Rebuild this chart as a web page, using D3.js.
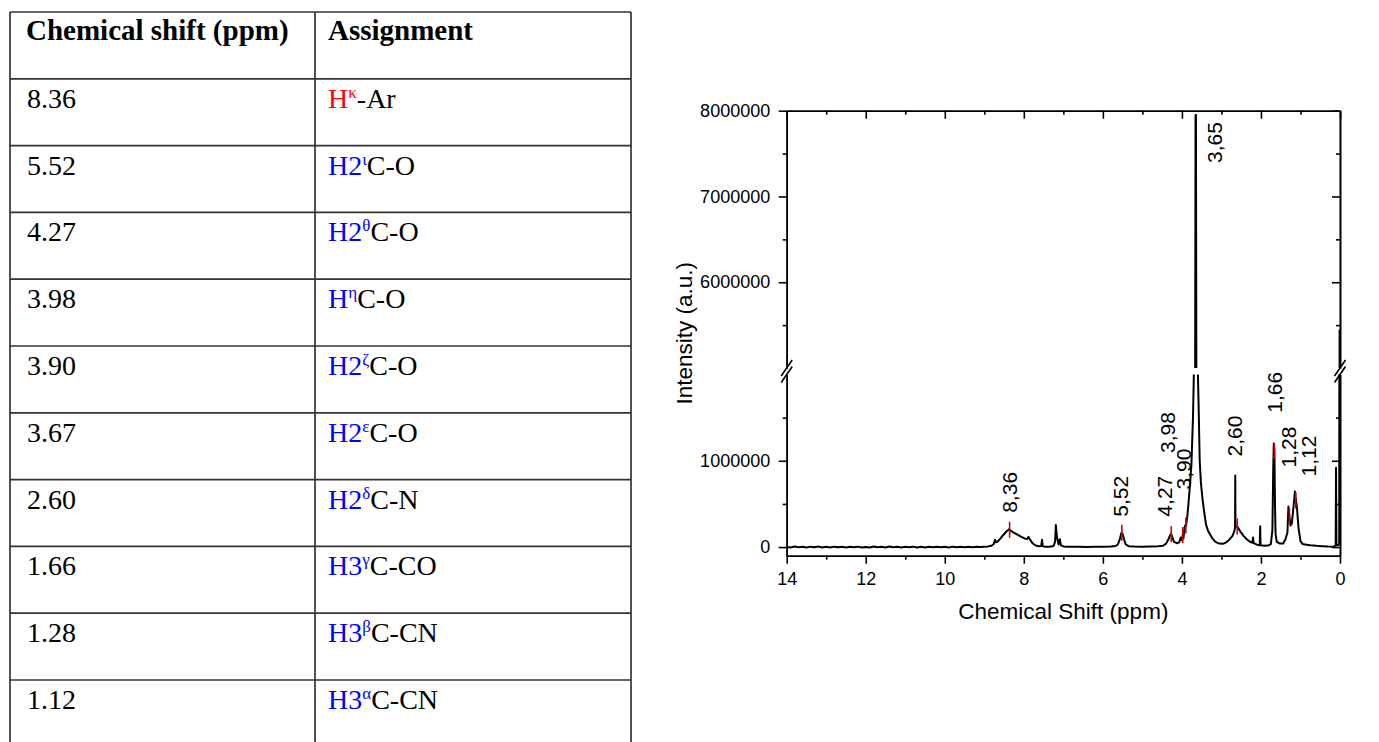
<!DOCTYPE html>
<html>
<head>
<meta charset="utf-8">
<script src="https://cdn.jsdelivr.net/npm/d3@7"></script>
<style>
  html, body { margin: 0; padding: 0; background: #fff; }
  svg { display: block; }
</style>
</head>
<body>
<svg id="fig" width="1379" height="742"></svg>
<script>
// ---------- Assignment table ----------
const tableHeaders = ["Chemical shift (ppm)", "Assignment"];
const tableShifts = ["8.36", "5.52", "4.27", "3.98", "3.90", "3.67", "2.60", "1.66", "1.28", "1.12"];
const tableProton = ["H", "H2", "H2", "H", "H2", "H2", "H2", "H3", "H3", "H3"];
const tableGreek = ["κ", "ι", "θ", "η", "ζ", "ε", "δ", "γ", "β", "α"];
const tableGroup = ["-Ar", "C-O", "C-O", "C-O", "C-O", "C-O", "C-N", "C-CO", "C-CN", "C-CN"];

// ---------- 1H NMR spectrum: [chemical shift (ppm), intensity (a.u.)] ----------
const spectrum = [
  [14.0, 2000], [13.9, -5000], [13.8, 6000], [13.7, -3000], [13.6, 4000], [13.5, -6000],
  [13.4, 5000], [13.3, -2000], [13.2, 6000], [13.1, -4000], [13.0, 3000], [12.9, -5000],
  [12.8, 5000], [12.7, -3000], [12.6, 4000], [12.5, -6000], [12.4, 3000], [12.3, -2000],
  [12.2, 5000], [12.1, -4000], [12.0, 2000], [11.9, -5000], [11.8, 6000], [11.7, -3000],
  [11.6, 4000], [11.5, -4000], [11.4, 7000], [11.3, -2000], [11.2, 4000], [11.1, -5000],
  [11.0, 3000], [10.9, -3000], [10.8, 5000], [10.7, -4000], [10.6, 3000], [10.5, -5000],
  [10.4, 4000], [10.3, -2000], [10.2, 5000], [10.1, -3000], [10.0, 3000], [9.9, -4000],
  [9.8, 5000], [9.7, -2000], [9.6, 4000], [9.5, -3000], [9.4, 3000], [9.3, -2000],
  [9.2, 4000], [9.1, 0], [9.0, 5000], [8.9, 8000],
  [8.82, 15000], [8.76, 35000], [8.73, 85000], [8.70, 55000], [8.66, 65000], [8.60, 95000],
  [8.52, 140000], [8.44, 180000], [8.38, 205000], [8.36, 200000], [8.30, 180000],
  [8.22, 158000], [8.14, 138000], [8.06, 118000], [7.98, 100000], [7.92, 92000],
  [7.88, 118000], [7.84, 85000], [7.78, 45000], [7.70, 18000], [7.62, 10000], [7.56, 12000],
  [7.54, 85000], [7.52, 8000], [7.45, 4000], [7.35, 5000], [7.25, 12000], [7.21, 60000],
  [7.19, 255000], [7.16, 110000], [7.12, 30000], [7.09, 90000], [7.06, 20000], [7.00, 8000],
  [6.90, 5000], [6.80, 3000], [6.60, 5000], [6.40, 2000], [6.20, 5000], [6.00, 3000],
  [5.80, 6000], [5.68, 12000], [5.62, 30000], [5.57, 95000], [5.53, 165000], [5.50, 150000],
  [5.46, 85000], [5.42, 30000], [5.35, 10000], [5.20, 6000], [5.00, 5000], [4.80, 8000],
  [4.60, 10000], [4.48, 15000], [4.40, 40000], [4.34, 90000], [4.30, 140000], [4.27, 150000],
  [4.24, 110000], [4.20, 60000], [4.13, 45000], [4.07, 55000], [4.03, 110000], [4.00, 80000],
  [3.98, 140000], [3.96, 100000], [3.94, 200000], [3.92, 250000], [3.90, 240000],
  [3.87, 330000], [3.84, 470000], [3.80, 700000], [3.76, 950000], [3.72, 1500000],
  [3.70, 1950000], [3.68, 2800000], [3.665, 5000000], [3.655, 7950000], [3.645, 7950000],
  [3.635, 5000000], [3.62, 2800000], [3.60, 2100000], [3.58, 1700000], [3.55, 1000000],
  [3.52, 750000], [3.48, 560000], [3.44, 420000], [3.39, 260000], [3.34, 190000],
  [3.28, 140000], [3.22, 95000], [3.15, 60000], [3.06, 40000], [2.96, 38000], [2.88, 55000],
  [2.80, 85000], [2.72, 130000], [2.67, 190000], [2.655, 230000], [2.65, 830000],
  [2.645, 240000], [2.60, 239000], [2.52, 180000], [2.44, 130000], [2.36, 90000],
  [2.28, 62000], [2.215, 50000], [2.20, 110000], [2.185, 45000], [2.10, 28000],
  [2.03, 22000], [2.02, 240000], [2.01, 22000], [1.92, 15000], [1.82, 18000], [1.75, 35000],
  [1.71, 200000], [1.69, 900000], [1.675, 1200000], [1.66, 1110000], [1.645, 500000],
  [1.63, 150000], [1.60, 60000], [1.52, 40000], [1.44, 40000], [1.38, 90000], [1.33, 170000],
  [1.305, 470000], [1.28, 355000], [1.25, 250000], [1.22, 270000], [1.18, 450000],
  [1.14, 645000], [1.12, 560000], [1.09, 460000], [1.05, 220000], [1.00, 70000],
  [0.95, 35000], [0.85, 28000], [0.75, 22000], [0.60, 15000], [0.45, 10000], [0.30, 6000],
  [0.15, 5000], [0.11, 20000], [0.10, 920000], [0.09, 25000], [0.05, 20000], [0.02, 40000],
  [0.01, 5440000], [0.0, 5440000]
];

// ---------- Peak picks ----------
const peakShifts = [8.36, 5.52, 4.27, 3.98, 3.90, 3.65, 2.60, 1.66, 1.28, 1.12];
const peakLabels = ["8,36", "5,52", "4,27", "3,98", "3,90", "3,65", "2,60", "1,66", "1,28", "1,12"];
const peakHeights = [200000, 166000, 150000, 140000, 250000, 7950000, 239000, 1110000, 355000, 540000];

// ---------- Axis ticks ----------
const xMajorTicks = [14, 12, 10, 8, 6, 4, 2, 0];
const xMinorTicks = [13, 11, 9, 7, 5, 3, 1];
const yLowerMajor = [0, 1000000];
const yLowerMinor = [500000, 1500000];
const yUpperMajor = [6000000, 7000000, 8000000];
const yUpperMinor = [5500000, 6500000, 7500000];

const svg = d3.select("#fig");

// ================= Table =================
const T = { left: 10, mid: 315, right: 631, top: 12, rowH: 66.8, bottom: 742 };
const serif = "'Liberation Serif', 'Times New Roman', serif";
const tbl = svg.append("g").attr("class", "table");

const rowLines = d3.range(0, tableShifts.length + 1).map(i => T.top + i * T.rowH);
tbl.selectAll("line.h").data(rowLines).join("line")
  .attr("class", "h")
  .attr("x1", T.left).attr("x2", T.right)
  .attr("y1", d => d).attr("y2", d => d)
  .attr("stroke", "#333").attr("stroke-width", 1.7);
tbl.selectAll("line.v").data([T.left, T.mid, T.right]).join("line")
  .attr("class", "v")
  .attr("x1", d => d).attr("x2", d => d)
  .attr("y1", T.top).attr("y2", T.bottom)
  .attr("stroke", "#333").attr("stroke-width", 1.7);

tbl.selectAll("text.head").data(tableHeaders).join("text")
  .attr("class", "head")
  .attr("x", (d, i) => i === 0 ? 26 : 328)
  .attr("y", T.top + 28)
  .attr("font-family", serif).attr("font-weight", "bold").attr("font-size", 29)
  .attr("fill", "#000")
  .text(d => d);

tbl.selectAll("text.shift").data(tableShifts).join("text")
  .attr("class", "shift")
  .attr("x", 27)
  .attr("y", (d, i) => T.top + (i + 1) * T.rowH + 29)
  .attr("font-family", serif).attr("font-size", 28)
  .attr("fill", "#000")
  .text(d => d);

const assign = tbl.selectAll("text.assign").data(tableShifts).join("text")
  .attr("class", "assign")
  .attr("x", 328)
  .attr("y", (d, i) => T.top + (i + 1) * T.rowH + 29)
  .attr("font-family", serif).attr("font-size", 28);
assign.each(function (d, i) {
  const t = d3.select(this);
  const accent = i === 0 ? "#ff0000" : "#0000ff";
  t.append("tspan").attr("fill", accent).text(tableProton[i]);
  t.append("tspan").attr("fill", accent).attr("font-size", 17).attr("dy", -10).text(tableGreek[i]);
  t.append("tspan").attr("fill", "#000").attr("dy", 10).text(tableGroup[i]);
});

// ================= Spectrum =================
const P = { left: 786.7, right: 1340, top: 110.7, bottom: 555.7, breakHi: 368, breakLo: 374.5 };
const sans = "'Liberation Sans', Arial, sans-serif";

const x = d3.scaleLinear().domain([14, 0]).range([P.left, P.right]);
const yLow = d3.scaleLinear().domain([-100000, 2000000]).range([P.bottom, P.breakLo]);
const yUp = d3.scaleLinear().domain([5000000, 8000000]).range([P.breakHi, P.top]);

const chart = svg.append("g").attr("class", "chart");
const defs = svg.append("defs");
defs.append("clipPath").attr("id", "clipLow").append("rect")
  .attr("x", P.left).attr("y", P.breakLo)
  .attr("width", P.right - P.left).attr("height", P.bottom - P.breakLo);
defs.append("clipPath").attr("id", "clipUp").append("rect")
  .attr("x", P.left).attr("y", P.top)
  .attr("width", P.right - P.left).attr("height", P.breakHi - P.top);

const lineLow = d3.line().x(d => x(d[0])).y(d => yLow(d[1]));
const lineUp = d3.line().x(d => x(d[0])).y(d => yUp(d[1]));

chart.append("path").datum(spectrum).attr("d", lineLow)
  .attr("clip-path", "url(#clipLow)")
  .attr("fill", "none").attr("stroke", "#000").attr("stroke-width", 2)
  .attr("stroke-linejoin", "round");
chart.append("path").datum(spectrum).attr("d", lineUp)
  .attr("clip-path", "url(#clipUp)")
  .attr("fill", "none").attr("stroke", "#000").attr("stroke-width", 2)
  .attr("stroke-linejoin", "round");

// peak markers (the tallest one sits at the top of the frame and is not marked)
const peaks = peakShifts.map((s, i) => ({ s, label: peakLabels[i], h: peakHeights[i] }));
const peakY = p => p.h >= 5000000 ? yUp(p.h) : yLow(p.h);
chart.selectAll("line.marker").data(peaks.filter(p => p.h < 5000000)).join("line")
  .attr("class", "marker")
  .attr("x1", p => x(p.s)).attr("x2", p => x(p.s))
  .attr("y1", p => peakY(p) - 8).attr("y2", p => peakY(p) + 8)
  .attr("stroke", "#d00000").attr("stroke-width", 1.6);

// label placement: [horizontal offset of baseline, lift above the marker] in px
const labelNudge = {
  "8,36": [7, 17], "5,52": [6.5, 16], "4,27": [1, 17.5], "3,98": [-7.5, 82],
  "3,90": [5.5, 36], "3,65": [26, -48], "2,60": [5, 70], "1,66": [8, 38.5],
  "1,28": [7, 49], "1,12": [20.5, 24]
};
chart.selectAll("text.peak").data(peaks).join("text")
  .attr("class", "peak")
  .attr("transform", p => {
    const n = labelNudge[p.label];
    return `translate(${x(p.s) + n[0]},${peakY(p) - n[1]}) rotate(-90)`;
  })
  .attr("font-family", sans).attr("font-size", 21).attr("fill", "#000")
  .text(p => p.label);

// ---------- axes ----------
const axisStroke = 1.6;
function styleAxis(g) {
  g.selectAll(".domain").attr("stroke", "#000").attr("stroke-width", axisStroke);
  g.selectAll(".tick line").attr("stroke", "#000").attr("stroke-width", axisStroke);
  g.selectAll(".tick text").attr("font-family", sans).attr("font-size", 18).attr("fill", "#000");
  g.attr("font-family", null).attr("font-size", null);
}

// bottom
chart.append("g").attr("transform", `translate(0,${P.bottom})`)
  .call(d3.axisBottom(x).tickValues(xMajorTicks).tickSize(8).tickSizeOuter(0).tickPadding(9)
    .tickFormat(d3.format("d")))
  .call(styleAxis);
chart.append("g").attr("transform", `translate(0,${P.bottom})`)
  .call(d3.axisBottom(x).tickValues(xMinorTicks).tickSize(4).tickSizeOuter(0).tickFormat(""))
  .call(styleAxis);
// top (inward ticks)
chart.append("g").attr("transform", `translate(0,${P.top})`)
  .call(d3.axisTop(x).tickValues(xMajorTicks).tickSize(-8).tickSizeOuter(0).tickFormat(""))
  .call(styleAxis);
chart.append("g").attr("transform", `translate(0,${P.top})`)
  .call(d3.axisTop(x).tickValues(xMinorTicks).tickSize(-4).tickSizeOuter(0).tickFormat(""))
  .call(styleAxis);

// left and right, two segments around the break
[[yLow, yLowerMajor, yLowerMinor], [yUp, yUpperMajor, yUpperMinor]].forEach(([sc, maj, mnr]) => {
  chart.append("g").attr("transform", `translate(${P.left},0)`)
    .call(d3.axisLeft(sc).tickValues(maj).tickSize(8).tickSizeOuter(0).tickPadding(8.5)
      .tickFormat(d3.format("d")))
    .call(styleAxis);
  chart.append("g").attr("transform", `translate(${P.left},0)`)
    .call(d3.axisLeft(sc).tickValues(mnr).tickSize(4).tickSizeOuter(0).tickFormat(""))
    .call(styleAxis);
  chart.append("g").attr("transform", `translate(${P.right},0)`)
    .call(d3.axisRight(sc).tickValues(maj).tickSize(-8).tickSizeOuter(0).tickFormat(""))
    .call(styleAxis);
  chart.append("g").attr("transform", `translate(${P.right},0)`)
    .call(d3.axisRight(sc).tickValues(mnr).tickSize(-4).tickSizeOuter(0).tickFormat(""))
    .call(styleAxis);
});

// axis break marks
[P.left, P.right].forEach(ax => {
  [P.breakHi, P.breakLo].forEach(by => {
    chart.append("line")
      .attr("x1", ax - 5.5).attr("y1", by + 8)
      .attr("x2", ax + 5.5).attr("y2", by - 8)
      .attr("stroke", "#000").attr("stroke-width", 1.6);
  });
});

// axis titles
chart.append("text")
  .attr("x", (P.left + P.right) / 2).attr("y", 619)
  .attr("text-anchor", "middle")
  .attr("font-family", sans).attr("font-size", 22.5).attr("fill", "#000")
  .text("Chemical Shift (ppm)");
chart.append("text")
  .attr("transform", `translate(692,${(P.top + P.bottom) / 2}) rotate(-90)`)
  .attr("text-anchor", "middle")
  .attr("font-family", sans).attr("font-size", 22.5).attr("fill", "#000")
  .text("Intensity (a.u.)");
</script>
</body>
</html>
